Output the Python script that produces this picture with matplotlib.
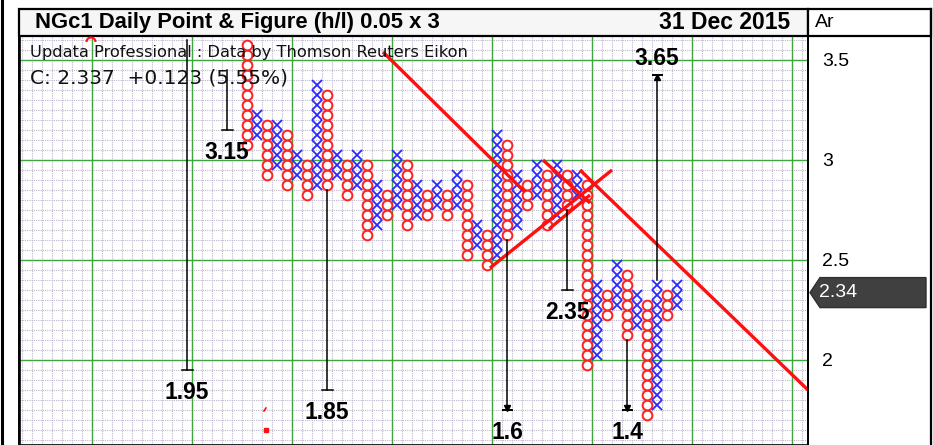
import numpy as np
import matplotlib
matplotlib.use('Agg')
import matplotlib.pyplot as plt
from matplotlib.patches import Rectangle, Polygon, Arc
from matplotlib.transforms import blended_transform_factory

plt.rcParams['font.family'] = ['Liberation Sans', 'DejaVu Sans']

# ---------------- data ----------------
BOX = 0.05
col_types = ['O', 'X', 'O', 'X', 'O', 'X', 'O', 'X', 'O', 'X', 'O', 'X', 'O', 'X',
             'O', 'X', 'O', 'X', 'O', 'X', 'O', 'X', 'O', 'X', 'O', 'X', 'O', 'X',
             'O', 'X', 'O', 'X', 'O', 'X', 'O', 'X', 'O', 'X', 'O', 'X', 'O', 'X',
             'O', 'X']
col_high = [3.55, 3.20, 3.15, 3.15, 3.10, 3.00, 2.95, 3.35, 3.30, 3.00, 2.95, 3.00,
            2.95, 2.85, 2.80, 3.00, 2.95, 2.85, 2.80, 2.85, 2.80, 2.90, 2.85, 2.65,
            2.60, 3.10, 3.05, 2.90, 2.85, 2.95, 2.90, 2.95, 2.90, 2.90, 2.85, 2.35,
            2.30, 2.45, 2.40, 2.30, 2.25, 2.35, 2.30, 2.35]
col_low = [3.05, 3.10, 2.90, 2.95, 2.85, 2.90, 2.80, 2.85, 2.85, 2.90, 2.80, 2.85,
           2.60, 2.65, 2.70, 2.75, 2.65, 2.70, 2.70, 2.75, 2.70, 2.75, 2.50, 2.55,
           2.45, 2.50, 2.60, 2.65, 2.75, 2.80, 2.65, 2.70, 2.75, 2.80, 1.95, 2.00,
           2.20, 2.25, 2.10, 2.15, 1.70, 1.75, 2.20, 2.25]

# vertical count targets: column, start price, target price
target_cols = [-6, -2, 8, 26, 32, 38, 41]
target_start = [3.60, 3.45, 2.85, 2.60, 2.75, 2.10, 2.40]
target_values = [1.95, 3.15, 1.85, 1.6, 2.35, 1.4, 3.65]
target_labels = ['1.95', '3.15', '1.85', '1.6', '2.35', '1.4', '3.65']

# trend lines: (col0, price0, col1, price1)
trend_lines = [
    (13.6, 3.54, 27.8, 2.84),
    (24.3, 2.46, 36.5, 2.95),
    (30.2, 2.655, 34.3, 2.825),
    (29.6, 3.00, 34.3, 2.785),
    (33.3, 2.95, 56.1, 1.85),
]

y_ticks = [2.0, 2.5, 3.0, 3.5]
y_ticklabels = ['2', '2.5', '3', '3.5']
last_price = 2.337
last_label = '2.34'
title = 'NGc1 Daily Point & Figure (h/l) 0.05 x 3'
date_text = '31 Dec 2015'
source_text = 'Updata Professional : Data by Thomson Reuters Eikon'
close_text = 'C: 2.337  +0.123 (5.55%)'

# ---------------- layout ----------------
W, H = 933, 445
L, R, T, B = 20, 808, 36, 445
fig = plt.figure(figsize=(W / 100, H / 100), dpi=100)
ax = fig.add_axes([L / W, 0, (R - L) / W, (B - T) / H])
ax.set_xlim((L - 247) / 10, (R - 247) / 10)
ax.set_ylim(3.5 - (B - 60) / 200, 3.5 - (T - 60) / 200)
ax.set_facecolor('white')

# grid
x0, x1 = ax.get_xlim()
y0, y1 = ax.get_ylim()
for xv in np.arange(np.floor(x0) + 0.5, x1, 1.0):
    ax.axvline(xv, color='#bdb6cc', lw=0.8, ls=(0, (1, 1)), zorder=0)
for yv in np.arange(1.55, 3.65, 0.05):
    ax.axhline(yv, color='#bdb6cc', lw=0.8, ls=(0, (1, 1)), zorder=0)
for xv in np.arange(-15.5, x1, 10):
    ax.axvline(xv, color='#3fa63f', lw=1.0, zorder=0.5)
for yv in y_ticks:
    ax.axhline(yv, color='#3fa63f', lw=1.0, zorder=0.5)

# P&F columns
for k, (t, hi, lo) in enumerate(zip(col_types, col_high, col_low)):
    n = int(round((hi - lo) / BOX)) + 1
    ys = lo + BOX / 2 + BOX * np.arange(n)
    xs = np.full(n, k)
    if t == 'O':
        ax.plot(xs, ys, ls='none', marker='o', ms=7.0, mfc='white', mec='#ff2020',
                mew=1.4, zorder=3)
    else:
        ax.plot(xs, ys, ls='none', marker='x', ms=7.6, mec='#2a2aff', mew=1.3, zorder=3)

# trend lines
for (c0, p0, c1, p1) in trend_lines:
    ax.plot([c0, c1], [p0, p1], color='#ff1010', lw=2.4, solid_capstyle='butt', zorder=4)

# target count lines
clip_lo, clip_hi = 1.75, 3.425
for c, s, v, lab in zip(target_cols, target_start, target_values, target_labels):
    down = v < s
    end = min(max(v, clip_lo), clip_hi)
    clipped = end != v
    ax.plot([c, c], [s, end], color='black', lw=1.1, zorder=5)
    if clipped:
        ax.plot([c - 0.45, c + 0.45], [end, end], color='black', lw=1.4, zorder=5)
        ax.plot([c], [end + (0.012 if down else -0.012)], marker='v' if down else '^',
                color='black', ms=5, zorder=5)
    else:
        ax.plot([c - 0.55, c + 0.55], [end, end], color='black', lw=1.1, zorder=5)
    off = -16 if down else 12
    ax.annotate(lab, (c, end), xytext=(0, off), textcoords='offset points',
                ha='center', va='center', fontsize=16.5, fontweight='bold', zorder=6)

# texts inside the plot
ax.text((30 - 247) / 10, 3.5 - (52 - 60) / 200, source_text, fontsize=11.7,
        family='DejaVu Sans', va='center', ha='left', color='#111111', zorder=6)
ax.text((30 - 247) / 10, 3.5 - (78 - 60) / 200, close_text, fontsize=14.5,
        family='DejaVu Sans', va='center', ha='left', color='#111111', zorder=6)

ax.set_xticks([])
ax.yaxis.tick_right()
ax.set_yticks(y_ticks)
ax.set_yticklabels(y_ticklabels)
ax.tick_params(axis='y', length=0, pad=10, labelsize=14)
for sp in ax.spines.values():
    sp.set_color('black')
    sp.set_linewidth(1.2)

# ---------------- decorations (pixel overlay) ----------------
ov = fig.add_axes([0, 0, 1, 1], zorder=10)
ov.set_xlim(0, W)
ov.set_ylim(H, 0)
ov.axis('off')
ov.patch.set_alpha(0)

ov.add_patch(Rectangle((19, 9), R - 19, T - 9, facecolor='#f6f6f6', edgecolor='black', lw=1.6))
ov.add_patch(Rectangle((R, 9), 931 - R, T - 9, facecolor='white', edgecolor='black', lw=1.6))
ov.plot([R, R], [T, H], color='black', lw=1.4)
ov.plot([931, 931], [9, H], color='black', lw=1.6)
ov.plot([2, 2], [0, H], color='black', lw=2.2)
ov.plot([19, 19], [T, H], color='black', lw=1.4)

ov.text(35, 22.5, title, fontsize=15.8, fontweight='bold', va='center', ha='left')
ov.text(790, 22.5, date_text, fontsize=16.5, fontweight='bold', va='center', ha='right')
ov.text(815, 22.5, 'Ar', fontsize=14, va='center', ha='left')

# current price marker
bt = blended_transform_factory(ov.transData, ax.transData)
dh = 15 / 200
poly = Polygon([(810, last_price), (820, last_price + dh), (926, last_price + dh),
                (926, last_price - dh), (820, last_price - dh)], closed=True,
               facecolor='#404040', edgecolor='#303030', transform=bt)
ov.add_patch(poly)
ov.text(819, last_price, last_label, transform=bt, color='white', fontsize=14,
        va='center', ha='left')

# small red artefacts
ov.add_patch(Arc((91, 42), 9, 9, theta1=180, theta2=360, color='#ff1010', lw=1.5))
ov.plot([264, 266], [411, 408], color='#ff1010', lw=1.2)
ov.add_patch(Rectangle((264, 428), 4, 4, color='#ff1010'))

fig.savefig('out.png', dpi=100)
